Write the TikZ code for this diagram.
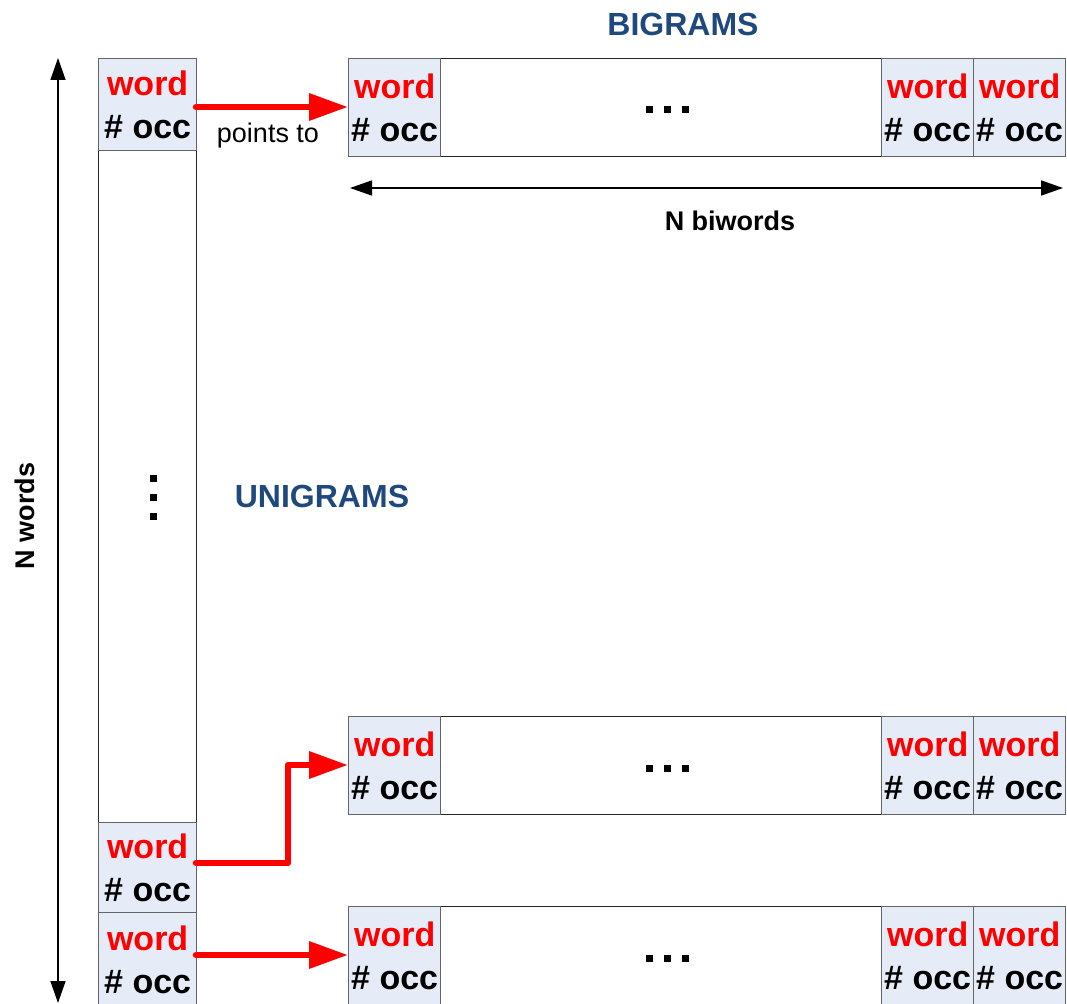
\documentclass[tikz,border=0pt]{standalone}
\usepackage{fontspec}
\setmainfont{Liberation Sans}
\usetikzlibrary{arrows.meta}
\definecolor{cellfill}{RGB}{230,236,247}
\definecolor{titleblue}{RGB}{31,73,125}
\definecolor{cellline}{RGB}{100,100,100}
\tikzset{
  cell/.style={draw=cellline, line width=1.3pt, fill=cellfill, anchor=north west, inner sep=0pt,
    minimum width=#1, minimum height=98pt, align=center,
    font=\fontsize{34}{43}\selectfont\bfseries},
  cell/.default=92pt,
  rowbox/.style={draw=black!85, line width=1.3pt, fill=white, anchor=north west, inner sep=0pt,
    minimum width=716pt, minimum height=98pt},
  colbox/.style={draw=black!85, line width=1.3pt, fill=white, anchor=north west, inner sep=0pt,
    minimum width=98pt, minimum height=672pt},
  ptr/.style={draw=red, line width=6.5pt, line cap=round, line join=round,
    -{Triangle[length=39pt,width=26pt]}},
  dimarrow/.style={draw=black, line width=1.6pt, {Triangle[length=22pt,width=15pt]}-{Triangle[length=22pt,width=15pt]}},
  title/.style={text=titleblue, font=\fontsize{32}{36}\selectfont\bfseries},
  lbl/.style={font=\fontsize{27}{30}\selectfont\bfseries},
  dot/.style={fill=black, inner sep=0pt, minimum size=7pt}
}
\newcommand{\wo}{\textcolor{red}{word}\\\textbf{\#} occ}
\begin{document}
\begin{tikzpicture}[x=1pt,y=-1pt]
\useasboundingbox (0,0) rectangle (1067,1003);
% unigram column
\node[colbox] (col) at (98,150) {};
\node[cell, minimum width=98pt, minimum height=92pt] (u1) at (98,58) {\wo};
\node[cell, minimum width=98pt, minimum height=90pt] (u2) at (98,822) {\wo};
\node[cell, minimum width=98pt, minimum height=94pt] (u3) at (98,912) {\wo};
\foreach \yy/\nm in {478/d1,497/d2,516/d3} \node[dot] (\nm) at (153,\yy) {};
% bigram rows
\foreach \r/\y in {a/58,b/716,c/906}{
  \node[rowbox] (\r row) at (348,\y) {};
  \node[cell] (\r1) at (348,\y) {\wo};
  \node[cell] (\r2) at (881,\y) {\wo};
  \node[cell] (\r3) at (973,\y) {\wo};
}
\foreach \r/\y in {a/110,b/768,c/958}{
  \node[dot] (\r dl) at (649,\y) {};
  \node[dot] (\r dm) at (667,\y) {};
  \node[dot] (\r dr) at (685,\y) {};
}
% pointers
\coordinate (p1s) at (196,107);
\coordinate (p1e) at (348,107);
\draw[ptr] (p1s) -- (p1e);
\node[font=\fontsize{27}{30}\selectfont] (pt) at (268,136) {points to};
\coordinate (p2s) at (196,863);
\coordinate (p2e) at (348,765);
\draw[ptr] (p2s) -- (288,863) -- (288,765) -- (p2e);
\coordinate (p3s) at (196,955);
\coordinate (p3e) at (348,955);
\draw[ptr] (p3s) -- (p3e);
% dimension arrows
\coordinate (vt) at (58,58);
\coordinate (vb) at (58,1003);
\draw[dimarrow] (vt) -- (vb);
\node[lbl, rotate=90] (nw) at (25,516) {N words};
\coordinate (hl) at (350,188);
\coordinate (hr) at (1063,188);
\draw[dimarrow] (hl) -- (hr);
\node[lbl] (nb) at (730,221) {N biwords};
% titles
\node[title] (big) at (683,24) {BIGRAMS};
\node[title] (uni) at (322,496) {UNIGRAMS};
\end{tikzpicture}
\end{document}
